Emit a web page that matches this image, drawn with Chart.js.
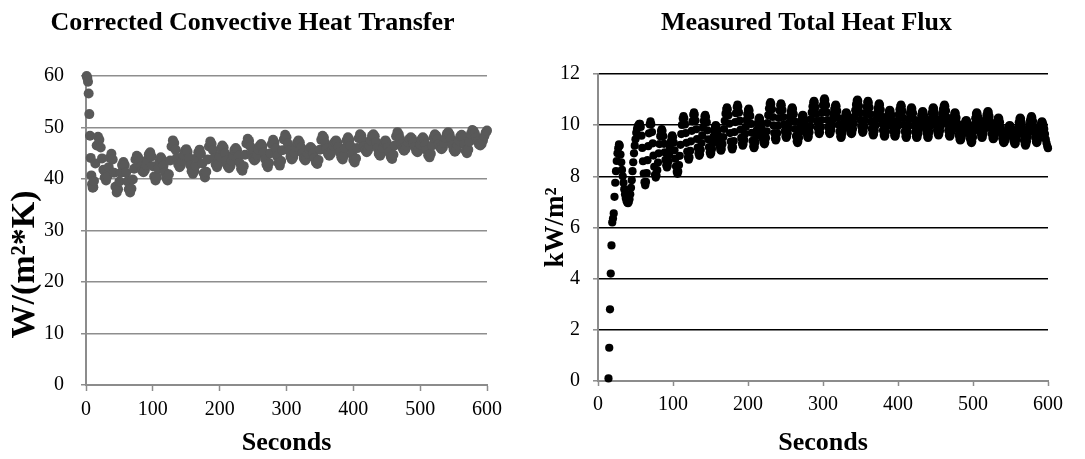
<!DOCTYPE html>
<html>
<head>
<meta charset="utf-8">
<script src="https://cdn.jsdelivr.net/npm/chart.js@4.4.1/dist/chart.umd.min.js"></script>
<style>
  html, body { margin: 0; padding: 0; background: #ffffff; overflow: hidden; }
  #wrap { position: relative; width: 1085px; height: 459px; overflow: hidden; }
  #left { position: absolute; left: -4px; top: 0; width: 512px; height: 459px; }
  #right { position: absolute; left: 542px; top: 0; width: 527px; height: 459px; }
</style>
</head>
<body>
<div id="wrap">
  <div id="left"><canvas id="c1"></canvas></div>
  <div id="right"><canvas id="c2"></canvas></div>
</div>
<script>
// ---------- text ----------
const leftTitle = 'Corrected Convective Heat Transfer';
const rightTitle = 'Measured Total Heat Flux';
const xAxisTitle = 'Seconds';
const leftYTitle = 'W/(m²*K)';
const rightYTitle = 'kW/m²';

// ---------- tick labels ----------
const xTicks = [0, 100, 200, 300, 400, 500, 600];
const leftYTicks = [0, 10, 20, 30, 40, 50, 60];
const rightYTicks = [0, 2, 4, 6, 8, 10, 12];

// ---------- left chart: corrected convective heat transfer, W/(m2*K) ----------
const convSeconds = [
  1,2,3,4,5,6,7,8,9,10,11,12,
  14,16,18,20,22,24,26,28,30,32,34,36,38,40,42,44,46,48,50,52,54,56,58,60,
  62,64,66,68,70,72,74,76,78,80,82,84,86,88,90,92,94,96,98,100,102,104,106,108,
  110,112,114,116,118,120,122,124,126,128,130,132,134,136,138,140,142,144,146,148,
  150,152,154,156,158,160,162,164,166,168,170,172,174,176,178,180,182,184,186,188,
  190,192,194,196,198,200,202,204,206,208,210,212,214,216,218,220,222,224,226,228,
  230,232,234,236,238,240,242,244,246,248,250,252,254,256,258,260,262,264,266,268,
  270,272,274,276,278,280,282,284,286,288,290,292,294,296,298,300,302,304,306,308,
  310,312,314,316,318,320,322,324,326,328,330,332,334,336,338,340,342,344,346,348,
  350,352,354,356,358,360,362,364,366,368,370,372,374,376,378,380,382,384,386,388,
  390,392,394,396,398,400,402,404,406,408,410,412,414,416,418,420,422,424,426,428,
  430,432,434,436,438,440,442,444,446,448,450,452,454,456,458,460,462,464,466,468,
  470,472,474,476,478,480,482,484,486,488,490,492,494,496,498,500,502,504,506,508,
  510,512,514,516,518,520,522,524,526,528,530,532,534,536,538,540,542,544,546,548,
  550,552,554,556,558,560,562,564,566,568,570,572,574,576,578,580,582,584,586,588,
  590,592,594,596,598,600
];
const convValues = [
  60.0,59.6,58.9,56.6,52.6,48.4,44.1,40.7,39.0,38.3,38.4,39.6,
  43.0,46.5,48.2,
  47.6,46.1,44.0,41.8,40.3,39.7,
  40.5,42.3,44.1,44.9,
  43.8,41.2,38.5,37.4,
  38.0,39.5,41.2,42.7,43.3,
  42.7,41.2,39.5,38.0,37.4,
  38.1,39.9,42.0,43.8,44.5,
  44.2,43.4,42.4,41.6,41.3,
  41.7,42.7,43.8,44.8,45.2,
  44.4,42.5,40.5,39.7,
  40.4,42.0,43.5,44.2,
  43.8,42.6,41.3,40.2,39.7,
  40.9,43.6,46.3,47.5,
  47.0,45.7,44.1,42.8,42.3,
  42.7,43.5,44.6,45.5,45.8,
  45.3,44.1,42.7,41.5,41.0,
  41.5,42.6,44.1,45.2,45.7,
  44.9,43.0,41.1,40.3,
  41.4,43.8,46.3,47.3,
  46.8,45.6,44.1,42.8,42.3,
  42.9,44.4,45.9,46.5,
  46.1,45.0,43.6,42.5,42.1,
  42.5,43.5,44.6,45.6,46.0,
  45.6,44.5,43.1,42.0,41.6,
  42.5,44.7,46.9,47.8,
  47.4,46.3,45.1,44.0,43.6,
  43.9,44.7,45.7,46.5,46.8,
  46.4,45.2,43.9,42.8,42.3,
  43.1,45.0,46.8,47.6,
  47.1,45.9,44.4,43.1,42.6,
  43.5,45.6,47.7,48.6,
  48.1,46.9,45.5,44.3,43.8,
  44.2,45.1,46.2,47.1,47.5,
  47.1,46.1,45.0,44.0,43.6,
  44.0,44.9,45.8,46.2,
  45.9,45.0,44.1,43.2,42.9,
  43.7,45.7,47.6,48.4,
  48.0,47.0,45.9,44.9,44.5,
  44.8,45.6,46.5,47.2,47.5,
  47.1,46.2,45.1,44.2,43.8,
  44.5,46.0,47.5,48.1,
  47.6,46.4,44.9,43.7,43.2,
  44.0,46.0,47.9,48.7,
  48.4,47.5,46.4,45.6,45.2,
  45.6,46.4,47.5,48.4,48.7,
  48.3,47.2,46.0,44.9,44.5,
  45.0,46.0,47.1,47.5,
  47.1,46.2,45.2,44.3,43.9,
  44.7,46.5,48.3,49.1,
  48.7,47.8,46.8,45.9,45.5,
  45.8,46.4,47.2,47.8,48.1,
  47.8,47.1,46.2,45.5,45.2,
  45.6,46.7,47.7,48.1,
  47.7,46.7,45.6,44.6,44.2,
  44.9,46.5,48.0,48.7,
  48.4,47.7,46.8,46.1,45.8,
  46.1,47.0,48.0,48.8,49.1,
  48.7,47.8,46.6,45.7,45.3,
  45.6,46.5,47.5,48.3,48.6,
  48.1,46.8,45.5,45.0,
  45.7,47.3,48.8,49.5,
  49.3,48.8,48.0,47.3,46.7,46.5,
  46.8,47.5,48.3,49.0,49.4
];

// ---------- right chart: measured total heat flux, kW/m2 ----------
const fluxSeconds = [
  14,15,16,17,18,19,
  20,21,22,23,24,25,26,27,28,29,30,31,32,33,34,35,36,37,38,39,
  40,41,42,43,44,45,46,47,48,49,50,51,52,53,54,55,56,57,58,59,
  60,61,62,63,64,65,66,67,68,69,70,71,72,73,74,75,76,77,78,79,
  80,81,82,83,84,85,86,87,88,89,90,91,92,93,94,95,96,97,98,99,
  100,101,102,103,104,105,106,107,108,109,110,111,112,113,114,115,116,117,118,119,
  120,121,122,123,124,125,126,127,128,129,130,131,132,133,134,135,136,137,138,139,
  140,141,142,143,144,145,146,147,148,149,150,151,152,153,154,155,156,157,158,159,
  160,161,162,163,164,165,166,167,168,169,170,171,172,173,174,175,176,177,178,179,
  180,181,182,183,184,185,186,187,188,189,190,191,192,193,194,195,196,197,198,199,
  200,201,202,203,204,205,206,207,208,209,210,211,212,213,214,215,216,217,218,219,
  220,221,222,223,224,225,226,227,228,229,230,231,232,233,234,235,236,237,238,239,
  240,241,242,243,244,245,246,247,248,249,250,251,252,253,254,255,256,257,258,259,
  260,261,262,263,264,265,266,267,268,269,270,271,272,273,274,275,276,277,278,279,
  280,281,282,283,284,285,286,287,288,289,290,291,292,293,294,295,296,297,298,299,
  300,301,302,303,304,305,306,307,308,309,310,311,312,313,314,315,316,317,318,319,
  320,321,322,323,324,325,326,327,328,329,330,331,332,333,334,335,336,337,338,339,
  340,341,342,343,344,345,346,347,348,349,350,351,352,353,354,355,356,357,358,359,
  360,361,362,363,364,365,366,367,368,369,370,371,372,373,374,375,376,377,378,379,
  380,381,382,383,384,385,386,387,388,389,390,391,392,393,394,395,396,397,398,399,
  400,401,402,403,404,405,406,407,408,409,410,411,412,413,414,415,416,417,418,419,
  420,421,422,423,424,425,426,427,428,429,430,431,432,433,434,435,436,437,438,439,
  440,441,442,443,444,445,446,447,448,449,450,451,452,453,454,455,456,457,458,459,
  460,461,462,463,464,465,466,467,468,469,470,471,472,473,474,475,476,477,478,479,
  480,481,482,483,484,485,486,487,488,489,490,491,492,493,494,495,496,497,498,499,
  500,501,502,503,504,505,506,507,508,509,510,511,512,513,514,515,516,517,518,519,
  520,521,522,523,524,525,526,527,528,529,530,531,532,533,534,535,536,537,538,539,
  540,541,542,543,544,545,546,547,548,549,550,551,552,553,554,555,556,557,558,559,
  560,561,562,563,564,565,566,567,568,569,570,571,572,573,574,575,576,577,578,579,
  580,581,582,583,584,585,586,587,588,589,590,591,592,593,594,595,596,597,598,599,
  600
];
const fluxValues = [
  0.1,1.3,2.8,4.2,5.3,6.2,
  6.35,6.55,7.2,7.75,8.2,8.6,8.9,9.1,9.25,9.2,
  8.85,8.55,8.25,8.0,7.75,7.5,7.3,7.15,7.05,6.98,
  6.95,7.0,7.1,7.3,7.55,7.85,8.2,8.55,8.9,9.2,
  9.45,9.7,9.85,9.95,10.0,10.05,10.05,
  9.93,9.59,9.11,8.59,8.11,7.77,7.65,
  7.78,8.13,8.63,9.18,9.68,10.03,10.15,
  10.04,9.73,9.29,8.81,8.37,8.06,7.95,
  8.03,8.24,8.54,8.9,9.26,9.57,9.77,9.85,
  9.78,9.57,9.27,8.94,8.64,8.43,8.35,
  8.41,8.59,8.84,9.11,9.36,9.54,9.6,
  9.53,9.32,9.02,8.69,8.39,8.18,8.1,
  8.19,8.44,8.8,9.23,9.65,10.01,10.26,10.35,
  10.27,10.03,9.69,9.31,8.97,8.74,8.65,
  8.74,9.0,9.37,9.78,10.15,10.41,10.5,
  10.42,10.18,9.84,9.46,9.12,8.89,8.8,
  8.86,9.04,9.3,9.6,9.9,10.16,10.34,10.4,
  10.32,10.11,9.8,9.45,9.14,8.93,8.85,
  8.91,9.07,9.3,9.55,9.78,9.94,10.0,
  9.95,9.81,9.61,9.39,9.19,9.05,9.0,
  9.07,9.26,9.53,9.85,10.17,10.45,10.63,10.7,
  10.62,10.39,10.06,9.69,9.36,9.13,9.05,
  9.14,9.38,9.73,10.12,10.47,10.71,10.8,
  10.72,10.5,10.18,9.82,9.5,9.28,9.2,
  9.26,9.42,9.65,9.93,10.2,10.43,10.59,10.65,
  10.57,10.36,10.05,9.7,9.39,9.18,9.1,
  9.16,9.33,9.57,9.83,10.07,10.24,10.3,
  10.25,10.1,9.89,9.66,9.45,9.3,9.25,
  9.32,9.5,9.76,10.08,10.39,10.65,10.83,10.9,
  10.83,10.62,10.32,9.99,9.69,9.48,9.4,
  9.47,9.68,9.97,10.28,10.57,10.78,10.85,
  10.78,10.59,10.32,10.03,9.76,9.57,9.5,
  9.55,9.68,9.87,10.1,10.33,10.52,10.65,10.7,
  10.63,10.43,10.15,9.85,9.57,9.37,9.3,
  9.36,9.51,9.73,9.97,10.19,10.35,10.4,
  10.36,10.23,10.05,9.85,9.67,9.55,9.5,
  9.56,9.72,9.95,10.23,10.5,10.73,10.89,10.95,
  10.89,10.7,10.44,10.16,9.9,9.72,9.65,
  9.72,9.92,10.2,10.5,10.78,10.98,11.05,
  10.98,10.78,10.5,10.2,9.92,9.72,9.65,
  9.7,9.82,10.01,10.23,10.44,10.63,10.75,10.8,
  10.74,10.55,10.29,10.01,9.75,9.57,9.5,
  9.55,9.69,9.89,10.11,10.31,10.45,10.5,
  10.46,10.34,10.17,9.98,9.81,9.69,9.65,
  9.7,9.85,10.07,10.33,10.58,10.8,10.95,11.0,
  10.94,10.75,10.49,10.21,9.95,9.77,9.7,
  9.76,9.94,10.19,10.46,10.71,10.89,10.95,
  10.88,10.69,10.42,10.13,9.86,9.67,9.6,
  9.65,9.79,9.99,10.23,10.46,10.66,10.8,10.85,
  10.79,10.6,10.34,10.06,9.8,9.62,9.55,
  9.6,9.75,9.96,10.19,10.4,10.55,10.6,
  10.55,10.4,10.19,9.96,9.75,9.6,9.55,
  9.6,9.74,9.94,10.18,10.41,10.61,10.75,10.8,
  10.74,10.55,10.29,10.01,9.75,9.57,9.5,
  9.56,9.73,9.97,10.23,10.47,10.64,10.7,
  10.64,10.47,10.23,9.97,9.73,9.56,9.5,
  9.54,9.66,9.83,10.03,10.22,10.39,10.51,10.55,
  10.5,10.35,10.14,9.91,9.7,9.55,9.5,
  9.56,9.73,9.97,10.23,10.47,10.64,10.7,
  10.65,10.49,10.27,10.03,9.81,9.66,9.6,
  9.65,9.78,9.97,10.2,10.43,10.62,10.75,10.8,
  10.74,10.56,10.31,10.04,9.79,9.61,9.55,
  9.6,9.73,9.92,10.13,10.32,10.45,10.5,
  10.45,10.29,10.07,9.83,9.61,9.46,9.4,
  9.43,9.52,9.65,9.8,9.95,10.08,10.17,10.2,
  10.16,10.03,9.85,9.65,9.47,9.35,9.3,
  9.36,9.53,9.77,10.03,10.27,10.44,10.5,
  10.45,10.31,10.11,9.89,9.69,9.55,9.5,
  9.54,9.66,9.83,10.03,10.22,10.39,10.51,10.55,
  10.5,10.34,10.12,9.88,9.66,9.51,9.45,
  9.49,9.61,9.78,9.97,10.14,10.26,10.3,
  10.25,10.11,9.91,9.69,9.49,9.35,9.3,
  9.33,9.41,9.52,9.65,9.78,9.9,9.97,10.0,
  9.96,9.86,9.71,9.54,9.39,9.29,9.25,
  9.3,9.45,9.66,9.89,10.1,10.25,10.3,
  10.25,10.09,9.87,9.63,9.41,9.26,9.2,
  9.25,9.37,9.56,9.78,9.99,10.18,10.3,10.35,
  10.3,10.15,9.94,9.71,9.5,9.35,9.3,
  9.34,9.46,9.63,9.82,9.99,10.11,10.15,
  10.1,10.0,9.85,9.65,9.45,9.3,9.18,9.1
];

// ---------- drawing ----------
const SERIF = "'Liberation Serif', 'Times New Roman', serif";
const AXIS_GRAY = '#8c8c8c';

function pairs(xs, ys) {
  const out = [];
  const n = Math.min(xs.length, ys.length);
  for (let i = 0; i < n; i++) out.push({ x: xs[i], y: ys[i] });
  return out;
}

function buildChart(canvasId, o) {
  return new Chart(document.getElementById(canvasId), {
    type: 'scatter',
    data: {
      datasets: [{
        data: pairs(o.xs, o.ys),
        backgroundColor: o.pointColor,
        borderWidth: 0,
        pointRadius: o.pointRadius,
        pointHoverRadius: o.pointRadius,
        clip: false
      }]
    },
    options: {
      responsive: true,
      maintainAspectRatio: false,
      animation: false,
      devicePixelRatio: 1,
      events: [],
      layout: { padding: { left: o.padLeft, right: 0, top: 0, bottom: 0 } },
      plugins: {
        legend: { display: false },
        tooltip: { enabled: false },
        title: {
          display: true,
          text: o.title,
          color: '#000',
          font: { family: SERIF, size: 26, weight: 'bold', lineHeight: 1.2 },
          padding: { top: 8, bottom: o.titleBottom }
        }
      },
      scales: {
        x: {
          type: 'linear',
          min: 0, max: 600,
          afterBuildTicks: s => { s.ticks = xTicks.map(v => ({ value: v })); },
          afterFit: s => { s.height = o.xHeight; s.paddingRight = 21; s.paddingLeft = 0; },
          grid: { drawOnChartArea: false, drawTicks: true, tickLength: o.xTl, tickColor: AXIS_GRAY, tickWidth: 1.5 },
          border: { display: true, color: AXIS_GRAY, width: 2 },
          ticks: { color: '#000', font: { family: SERIF, size: 20 }, padding: o.xPad, maxRotation: 0, autoSkip: false },
          title: {
            display: true, text: xAxisTitle, color: '#000',
            font: { family: SERIF, size: 26, weight: 'bold', lineHeight: 1.2 },
            padding: { top: 0, bottom: o.xTitleBottom }
          }
        },
        y: {
          type: 'linear',
          min: o.yTicks[0], max: o.yTicks[o.yTicks.length - 1],
          afterBuildTicks: s => { s.ticks = o.yTicks.map(v => ({ value: v })); },
          afterFit: s => { s.width = o.yWidth; s.paddingTop = 0; s.paddingBottom = 0; },
          grid: {
            drawOnChartArea: true, drawTicks: true, tickLength: 5,
            color: ctx => (o.hideZeroGrid && ctx.tick && ctx.tick.value === 0) ? 'rgba(0,0,0,0)' : o.gridColor,
            lineWidth: o.gridWidth,
            tickColor: AXIS_GRAY, tickWidth: 1.5
          },
          border: { display: true, color: AXIS_GRAY, width: 2 },
          ticks: { color: '#000', font: { family: SERIF, size: 20 }, padding: o.yPad },
          title: {
            display: true, text: o.yTitle, color: '#000',
            font: { family: SERIF, size: o.yTitleSize, weight: 'bold', lineHeight: 1.2 },
            padding: { top: o.yTitlePad, bottom: 0 }
          }
        }
      }
    }
  });
}

buildChart('c1', {
  xs: convSeconds, ys: convValues,
  pointColor: '#595959', pointRadius: 5,
  title: leftTitle, titleBottom: 36.8,
  padLeft: 1, yWidth: 89, xHeight: 74,
  xTl: 6, xPad: 7, xTitleBottom: 0,
  yTicks: leftYTicks, yPad: 17,
  // trailing spaces keep the rotated label centred where the original sits (below the axis middle)
  yTitle: leftYTitle + '        ', yTitleSize: 34, yTitlePad: 7.6,
  gridColor: '#8e8e8e', gridWidth: 1.5, hideZeroGrid: false
});

buildChart('c2', {
  xs: fluxSeconds, ys: fluxValues,
  pointColor: '#000000', pointRadius: 4.1,
  title: rightTitle, titleBottom: 34.8,
  padLeft: 2, yWidth: 54, xHeight: 78,
  xTl: 5, xPad: 7, xTitleBottom: 0,
  yTicks: rightYTicks, yPad: 13, yTitle: rightYTitle, yTitleSize: 27, yTitlePad: -4,
  gridColor: '#000000', gridWidth: 1.6, hideZeroGrid: true
});
</script>
</body>
</html>
